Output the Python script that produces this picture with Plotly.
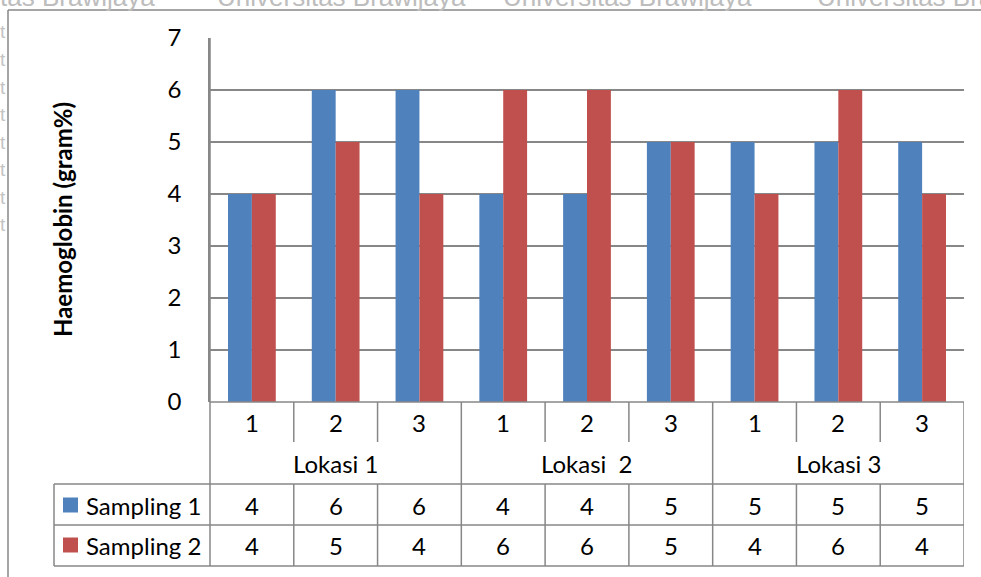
import plotly.graph_objects as go

# ---- data -------------------------------------------------------------
groups = ["Lokasi 1", "Lokasi  2", "Lokasi 3"]
sub_labels = ["1", "2", "3"]
series_names = ["Sampling 1", "Sampling 2"]
sampling1 = [4, 6, 6, 4, 4, 5, 5, 5, 5]
sampling2 = [4, 5, 4, 6, 6, 5, 4, 6, 4]
y_ticks = [0, 1, 2, 3, 4, 5, 6, 7]
watermark_words = ["tas Brawijaya", "Universitas Brawijaya", "Universitas Brawijaya", "Universitas Brawijaya"]
watermark_x = [0, 217, 503, 817]

# ---- styling ----------------------------------------------------------
W, H = 981, 577
BLUE, RED = "#4F81BD", "#C0504D"
LINE = "#878787"
FONT = "Lato, 'Liberation Sans', sans-serif"
FS = 24

n = len(sampling1)
xs = list(range(n))
category_labels = [sub_labels[i % 3] for i in range(n)]


def px(x):
    return x / W


def py(y):
    return 1 - y / H


# plot area in pixels
L, R, T, B = 210, 964, 38, 402

fig = go.Figure()
fig.add_trace(go.Bar(x=xs, y=sampling1, name=series_names[0], marker=dict(color=BLUE, line=dict(width=0))))
fig.add_trace(go.Bar(x=xs, y=sampling2, name=series_names[1], marker=dict(color=RED, line=dict(width=0))))

shapes = []
annotations = []


def hline(y, x0, x1, xref="paper"):
    shapes.append(dict(type="line", xref=xref, yref="paper", x0=x0, x1=x1, y0=py(y), y1=py(y),
                       line=dict(color=LINE, width=1.5), layer="above"))


def vline(x, y0, y1, xref="paper"):
    shapes.append(dict(type="line", xref=xref, yref="paper", x0=x, x1=x, y0=py(y0), y1=py(y1),
                       line=dict(color=LINE, width=1.5), layer="above"))


def label(x, y, text, xref="x", xanchor="center", size=FS, **kw):
    annotations.append(dict(x=x, y=py(y), xref=xref, yref="paper", text=text, showarrow=False,
                            xanchor=xanchor, yanchor="middle",
                            font=dict(size=size, color="black", family=FONT), **kw))


# outer chart border
hline(10, px(8), px(W + 5))
vline(px(8), 10, H + 5)

# data table grid
hline(B, px(L), px(R))
for yy in (484, 525, 566):
    hline(yy, px(54), px(R))
vline(px(54), 484, 566)
vline(px(L), T, 566)
for k in range(1, n + 1):
    xb = k - 0.5
    if k % 3 == 0:
        vline(xb, B, 566, xref="x")
    else:
        vline(xb, B, 442, xref="x")
        vline(xb, 484, 566, xref="x")

# sub-category and group labels
for i, lab in enumerate(category_labels):
    label(xs[i], 422, lab)
for g, name in enumerate(groups):
    label(3 * g + 1, 463, name)

# value rows with legend keys
rows = [(sampling1, BLUE, 505), (sampling2, RED, 545)]
for (vals, col, yc), name in zip(rows, series_names):
    shapes.append(dict(type="rect", xref="paper", yref="paper", x0=px(63), x1=px(78),
                       y0=py(yc + 7.5), y1=py(yc - 7.5), fillcolor=col, line=dict(width=0)))
    label(px(84), yc, name, xref="paper", xanchor="left")
    for i, v in enumerate(vals):
        label(xs[i], yc, str(v))

# axis title
label(px(62), 220, "<b>Haemoglobin (gram%)</b>", xref="paper", textangle=-90)

# faint page watermark above and left of the chart
for word, wx in zip(watermark_words, watermark_x):
    annotations.append(dict(x=px(wx - 2), y=py(14), xref="paper", yref="paper", text=word, showarrow=False,
                            xanchor="left", yanchor="bottom",
                            font=dict(size=26, color="#bdbdbd", family="Liberation Sans")))
for k in range(8):
    annotations.append(dict(x=px(-1), y=py(32 + 27.5 * k), xref="paper", yref="paper", text="t", showarrow=False,
                            xanchor="left", yanchor="middle", borderpad=0,
                            font=dict(size=19, color="#c4c4c4", family="Liberation Sans")))

fig.update_layout(
    width=W, height=H,
    margin=dict(l=0, r=0, t=0, b=0, autoexpand=False),
    paper_bgcolor="white", plot_bgcolor="white",
    barmode="group", bargap=0.43, bargroupgap=0,
    showlegend=False,
    xaxis=dict(domain=[px(L), px(R)], range=[-0.5, n - 0.5], showticklabels=False, showgrid=False,
               zeroline=False, showline=False, ticks="", automargin=False),
    yaxis=dict(domain=[py(B), py(T)], range=[0, 7], tickvals=y_ticks, showgrid=True, gridcolor=LINE,
               gridwidth=1.5, zeroline=False, showline=True, linecolor=LINE, linewidth=1.5,
               ticks="", ticklabelstandoff=22, automargin=False,
               tickfont=dict(size=FS, color="black", family=FONT)),
    shapes=shapes,
    annotations=annotations,
)

fig.write_html("out.html")
